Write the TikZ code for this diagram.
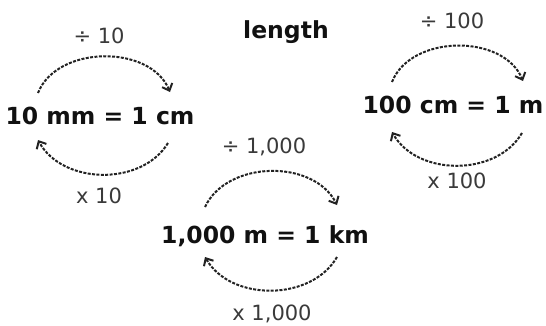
\documentclass[tikz,border=0pt]{standalone}
\usepackage{fontspec}
\setmainfont{DejaVu Sans}
\usetikzlibrary{arrows.meta}

\definecolor{ink}{HTML}{111111}
\definecolor{factor}{HTML}{3a3a3a}
\definecolor{arc}{HTML}{222222}

\begin{document}
\begin{tikzpicture}[
  x=1pt, y=1pt,
  line cap=round, line join=round,
  every node/.style={inner sep=0pt, anchor=base},
  unit/.style={font=\fontsize{23.5}{26}\selectfont\bfseries, text=ink},
  factor/.style={font=\fontsize{21}{24}\selectfont, text=factor},
  conv/.style={draw=arc, line width=2pt, line cap=butt, dash pattern=on 3pt off 1.4pt,
    -{Straight Barb[length=6pt, width=11pt, line width=2pt]}},
]
\useasboundingbox (0,0) rectangle (546,325);
\node[unit] (title) at (286,287) {length};
% mm -> cm
\node[unit] (mmcm) at (100,201) {10 mm = 1 cm};
\node[factor] (divmm) at (99,282) {÷ 10};
\node[factor] (mulmm) at (99,122) {x 10};
\draw[conv] ([shift={(-62,31)}]mmcm.base) to[bend left=68] ([shift={(70,32)}]mmcm.base);
\draw[conv] ([shift={(68,-19)}]mmcm.base) to[bend left=60] ([shift={(-62,-16)}]mmcm.base);
% cm -> m
\node[unit] (cmm) at (453,212) {100 cm = 1 m};
\node[factor] (divcm) at (452,297) {÷ 100};
\node[factor] (mulcm) at (457,137) {x 100};
\draw[conv] ([shift={(-61,31)}]cmm.base) to[bend left=68] ([shift={(70,32)}]cmm.base);
\draw[conv] ([shift={(69,-20)}]cmm.base) to[bend left=60] ([shift={(-61,-19)}]cmm.base);
% m -> km
\node[unit] (mkm) at (265,82) {1,000 m = 1 km};
\node[factor] (divm) at (264,172) {÷ 1,000};
\node[factor] (mulm) at (272,5) {x 1,000};
\draw[conv] ([shift={(-60,36)}]mkm.base) to[bend left=64] ([shift={(72,38)}]mkm.base);
\draw[conv] ([shift={(72,-14)}]mkm.base) to[bend left=60] ([shift={(-60,-14)}]mkm.base);
\end{tikzpicture}
\end{document}
